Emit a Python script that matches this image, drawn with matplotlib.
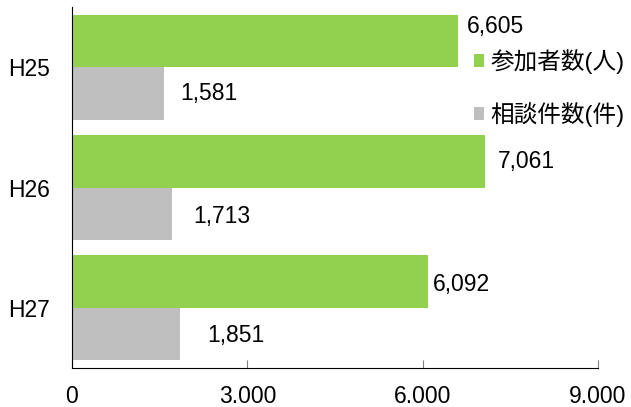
import matplotlib
matplotlib.use('Agg')
import matplotlib.pyplot as plt
import numpy as np

plt.rcParams['font.family'] = ['Liberation Sans', 'Noto Sans CJK JP', 'DejaVu Sans']

years = ['H25', 'H26', 'H27']
participants = [6605, 7061, 6092]
consultations = [1581, 1713, 1851]
series_names = ['参加者数(人)', '相談件数(件)']
xticks = [0, 3000, 6000, 9000]
xticklabels = ['0', '3.000', '6.000', '9.000']

# label offsets in pixels (dx, dy)
green_off = [(9, 14.5), (13, 0), (5, -2.5)]
gray_off = [(16, 0), (21, -3), (27, -1)]

green = '#92D050'
gray = '#BFBFBF'
fs = 16.5

fig = plt.figure(figsize=(6.31, 4.07), dpi=100)
ax = fig.add_axes([72/631, 39/407, 526/631, 361/407])

y = np.arange(len(years))
h = 0.4375
b1 = ax.barh(y - h/2, participants, height=h, color=green, label=series_names[0])
b2 = ax.barh(y + h/2, consultations, height=h, color=gray, label=series_names[1])

for i in range(len(years)):
    ax.annotate(f'{participants[i]:,}', (participants[i], y[i] - h/2),
                xytext=green_off[i], textcoords='offset pixels',
                ha='left', va='center', fontsize=fs)
    ax.annotate(f'{consultations[i]:,}', (consultations[i], y[i] + h/2),
                xytext=gray_off[i], textcoords='offset pixels',
                ha='left', va='center', fontsize=fs)

ax.set_ylim(2.5, -0.5)
ax.set_xlim(0, 9000)
ax.set_yticks(y)
ax.set_yticklabels(years, fontsize=fs)
ax.set_xticks(xticks)
ax.set_xticklabels(xticklabels, fontsize=fs)
ax.tick_params(axis='y', length=0, pad=16)
ax.tick_params(axis='x', direction='in', length=6, pad=12, color='#808080')
ax.spines['top'].set_visible(False)
ax.spines['right'].set_visible(False)
ax.spines['left'].set_color('black')
ax.spines['bottom'].set_color('black')

leg = ax.legend(handles=[b1, b2], loc='center left',
                bbox_to_anchor=(465/631, 1 - 88/407), bbox_transform=fig.transFigure,
                frameon=False, fontsize=17, handlelength=0.42, handleheight=0.42,
                handletextpad=0.25, labelspacing=1.2, borderaxespad=0)

fig.savefig('out.png', dpi=100)
